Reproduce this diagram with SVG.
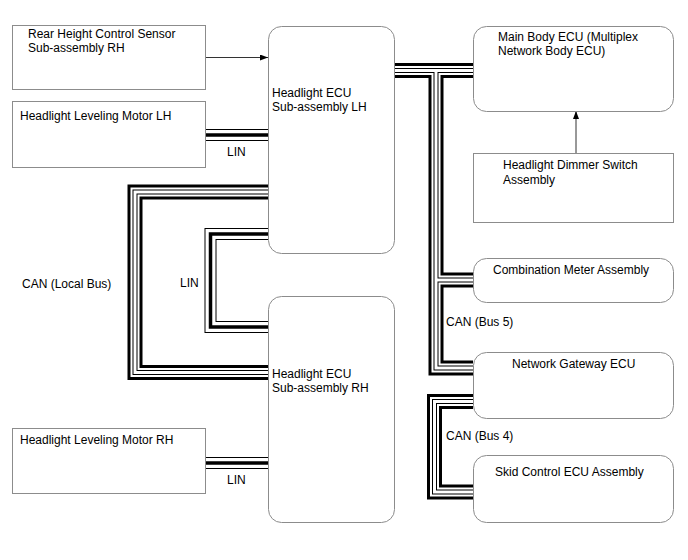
<svg xmlns="http://www.w3.org/2000/svg" xmlns:xlink="http://www.w3.org/1999/xlink" width="688" height="560" viewBox="0 0 688 560">
<style>
text{font-family:"Liberation Sans",Arial,sans-serif;font-size:12px;fill:#000}
.box{fill:#fff;stroke:#8c8c8c;stroke-width:1}
.arrow{stroke:#333;stroke-width:1;fill:none;marker-end:url(#ah)}
.b15{stroke:#000;stroke-width:15;fill:none}
.w9{stroke:#fff;stroke-width:9;fill:none}
.b5{stroke:#000;stroke-width:5;fill:none}
.w3{stroke:#fff;stroke-width:3;fill:none}
.b12{stroke:#000;stroke-width:12;fill:none}
.w10{stroke:#fff;stroke-width:10;fill:none}
.b4{stroke:#000;stroke-width:3.5;fill:none}
</style>
<defs>
<marker id="ah" viewBox="0 0 8 6" refX="8" refY="3" markerWidth="8" markerHeight="6" markerUnits="userSpaceOnUse" orient="auto">
<path d="M0,0 L8,3 L0,6 Z" fill="#000"/>
</marker>
<path id="canLocal" d="M268,192 H135 V372.5 H268"/>
<path id="canTop" d="M394,70.5 H473"/>
<path id="can5" d="M436,70.5 V368 H473"/>
<path id="canMeter" d="M436,280 H473"/>
<path id="can4" d="M473,401.5 H434.5 V492 H473"/>
<path id="linLH" d="M205,135 H268"/>
<path id="linLoop" d="M268,234 H210.5 V327 H268"/>
<path id="linRH" d="M205,463 H268"/>
</defs>
<rect width="688" height="560" fill="#fff"/>
<g id="connectors">
<g class="b15"><use xlink:href="#canLocal"/><use xlink:href="#canTop"/><use xlink:href="#can5"/><use xlink:href="#canMeter"/><use xlink:href="#can4"/></g>
<g class="w9"><use xlink:href="#canLocal"/><use xlink:href="#canTop"/><use xlink:href="#can5"/><use xlink:href="#canMeter"/><use xlink:href="#can4"/></g>
<g class="b5"><use xlink:href="#canLocal"/><use xlink:href="#canTop"/><use xlink:href="#can5"/><use xlink:href="#canMeter"/><use xlink:href="#can4"/></g>
<g class="w3"><use xlink:href="#canLocal"/><use xlink:href="#canTop"/><use xlink:href="#can5"/><use xlink:href="#canMeter"/><use xlink:href="#can4"/></g>
<g class="b12"><use xlink:href="#linLH"/><use xlink:href="#linLoop"/><use xlink:href="#linRH"/></g>
<g class="w10"><use xlink:href="#linLH"/><use xlink:href="#linLoop"/><use xlink:href="#linRH"/></g>
<g class="b4"><use xlink:href="#linLH"/><use xlink:href="#linLoop"/><use xlink:href="#linRH"/></g>
<line class="arrow" x1="205" y1="57.5" x2="268" y2="57.5"/>
<line class="arrow" x1="576" y1="153" x2="576" y2="111"/>
<text x="227" y="156">LIN</text>
<text x="180" y="287">LIN</text>
<text x="227" y="484">LIN</text>
<text x="22" y="288">CAN (Local Bus)</text>
<text x="446" y="326">CAN (Bus 5)</text>
<text x="446" y="440">CAN (Bus 4)</text>
</g>
<g id="rear-height-sensor">
<rect class="box" x="12.5" y="25.5" width="193" height="64"/>
<text x="28" y="38">Rear Height Control Sensor</text>
<text x="28" y="52">Sub-assembly RH</text>
</g>
<g id="leveling-motor-lh">
<rect class="box" x="12.5" y="101.5" width="193" height="66"/>
<text x="20" y="120">Headlight Leveling Motor LH</text>
</g>
<g id="headlight-ecu-lh">
<rect class="box" x="268.5" y="26.5" width="126" height="227" rx="13"/>
<text x="272" y="97">Headlight ECU</text>
<text x="272" y="111">Sub-assembly LH</text>
</g>
<g id="headlight-ecu-rh">
<rect class="box" x="268.5" y="296.5" width="126" height="226" rx="13"/>
<text x="272" y="378">Headlight ECU</text>
<text x="272" y="392">Sub-assembly RH</text>
</g>
<g id="leveling-motor-rh">
<rect class="box" x="12.5" y="428.5" width="193" height="65"/>
<text x="20" y="444">Headlight Leveling Motor RH</text>
</g>
<g id="main-body-ecu">
<rect class="box" x="473.5" y="26.5" width="200" height="85" rx="13"/>
<text x="498" y="41">Main Body ECU (Multiplex</text>
<text x="498" y="55">Network Body ECU)</text>
</g>
<g id="dimmer-switch">
<rect class="box" x="473.5" y="153.5" width="200" height="69"/>
<text x="503" y="169">Headlight Dimmer Switch</text>
<text x="503" y="184">Assembly</text>
</g>
<g id="combination-meter">
<rect class="box" x="473.5" y="258.5" width="200" height="44" rx="13"/>
<text x="493" y="274">Combination Meter Assembly</text>
</g>
<g id="network-gateway">
<rect class="box" x="473.5" y="352.5" width="200" height="66" rx="13"/>
<text x="512" y="368">Network Gateway ECU</text>
</g>
<g id="skid-control">
<rect class="box" x="473.5" y="455.5" width="200" height="67" rx="13"/>
<text x="495" y="476">Skid Control ECU Assembly</text>
</g>
</svg>
